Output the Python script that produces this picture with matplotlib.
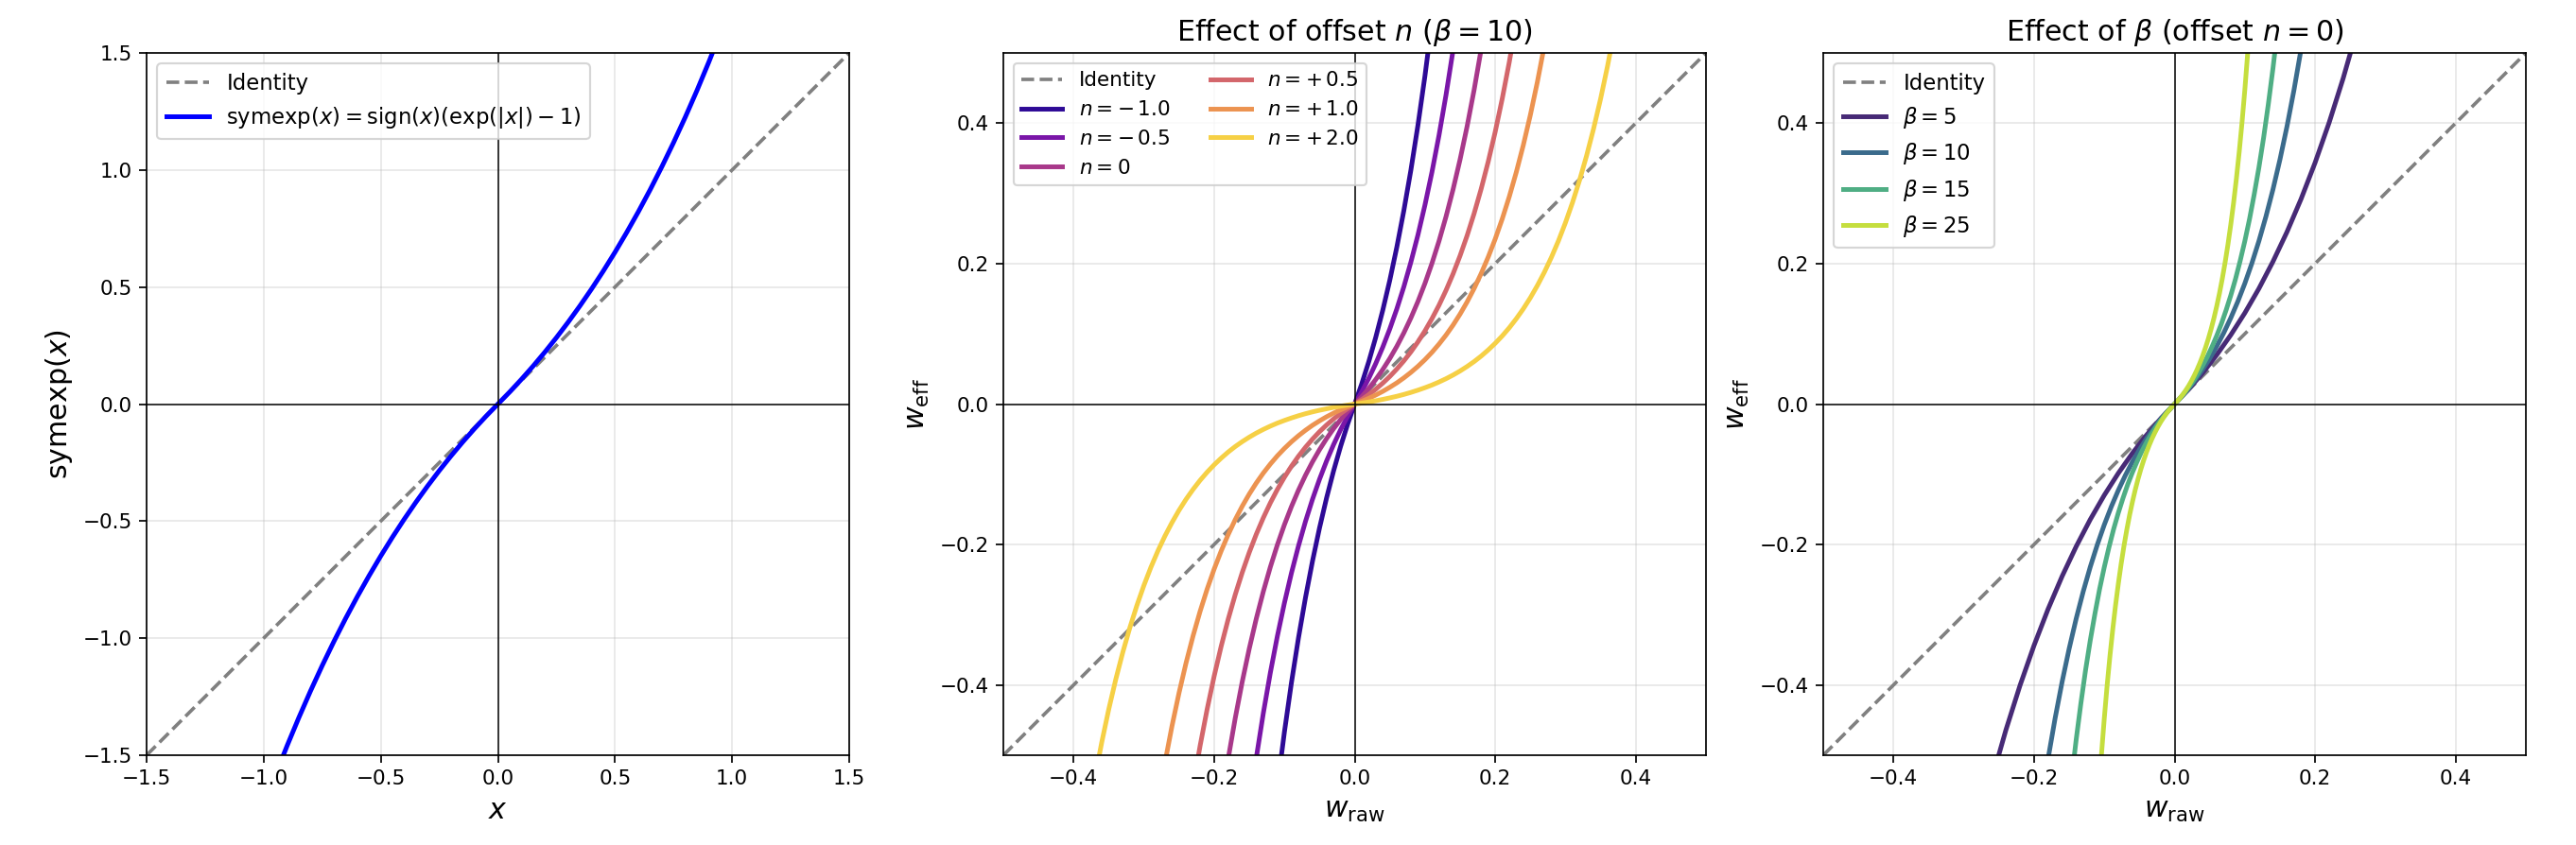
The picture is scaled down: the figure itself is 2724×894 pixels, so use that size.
import matplotlib
matplotlib.use("Agg")
import matplotlib.pyplot as plt

# --- panel 1: symexp(x) ---
X1 = [-0.95, -0.9, -0.85, -0.8, -0.75, -0.7, -0.65, -0.6, -0.55, -0.5,
      -0.45, -0.4, -0.35, -0.3, -0.25, -0.2, -0.15, -0.1, -0.05, 0.0,
      0.05, 0.1, 0.15, 0.2, 0.25, 0.3, 0.35, 0.4, 0.45, 0.5,
      0.55, 0.6, 0.65, 0.7, 0.75, 0.8, 0.85, 0.9, 0.95]
Y1 = [-1.5857, -1.4596, -1.3397, -1.2255, -1.1170, -1.0138, -0.9155, -0.8221, -0.7333, -0.6487,
      -0.5683, -0.4918, -0.4191, -0.3499, -0.2840, -0.2214, -0.1618, -0.1052, -0.0513, 0.0,
      0.0513, 0.1052, 0.1618, 0.2214, 0.2840, 0.3499, 0.4191, 0.4918, 0.5683, 0.6487,
      0.7333, 0.8221, 0.9155, 1.0138, 1.1170, 1.2255, 1.3397, 1.4596, 1.5857]
IDENT1 = [-1.5, 1.5]
TICKS1 = [-1.5, -1.0, -0.5, 0.0, 0.5, 1.0, 1.5]

# --- panel 2: offset n, beta = 10 ---
N_LABELS = [r"$n=-\,1.0$", r"$n=-\,0.5$", r"$n=0$", r"$n=+\,0.5$", r"$n=+\,1.0$", r"$n=+\,2.0$"]
N_COLORS = ["#2e0a96", "#7a16a8", "#a8388a", "#d3666b", "#ec9350", "#f6d045"]

W_NEG1 = [-0.11, -0.10, -0.09, -0.08, -0.07, -0.06, -0.05, -0.04, -0.03, -0.02, -0.01, 0.0,
          0.01, 0.02, 0.03, 0.04, 0.05, 0.06, 0.07, 0.08, 0.09, 0.10, 0.11]
Y_NEG1 = [-0.5448, -0.4671, -0.3968, -0.3331, -0.2756, -0.2235, -0.1763, -0.1337, -0.0951, -0.0602, -0.0286, 0.0,
          0.0286, 0.0602, 0.0951, 0.1337, 0.1763, 0.2235, 0.2756, 0.3331, 0.3968, 0.4671, 0.5448]

W_NEG05 = [-0.15, -0.14, -0.13, -0.12, -0.11, -0.10, -0.09, -0.08, -0.07, -0.06, -0.05, -0.04, -0.03, -0.02, -0.01, 0.0,
           0.01, 0.02, 0.03, 0.04, 0.05, 0.06, 0.07, 0.08, 0.09, 0.10, 0.11, 0.12, 0.13, 0.14, 0.15]
Y_NEG05 = [-0.5740, -0.5037, -0.4401, -0.3825, -0.3304, -0.2833, -0.2406, -0.2021, -0.1671, -0.1355, -0.1070, -0.0811,
           -0.0577, -0.0365, -0.0173, 0.0,
           0.0173, 0.0365, 0.0577, 0.0811, 0.1070, 0.1355, 0.1671, 0.2021, 0.2406, 0.2833, 0.3304, 0.3825,
           0.4401, 0.5037, 0.5740]

W_ZERO = [-0.19, -0.18, -0.17, -0.16, -0.15, -0.14, -0.13, -0.12, -0.11, -0.10, -0.09, -0.08, -0.07, -0.06, -0.05,
          -0.04, -0.03, -0.02, -0.01, 0.0,
          0.01, 0.02, 0.03, 0.04, 0.05, 0.06, 0.07, 0.08, 0.09, 0.10, 0.11, 0.12, 0.13, 0.14, 0.15,
          0.16, 0.17, 0.18, 0.19]
Y_ZERO = [-0.5686, -0.5050, -0.4474, -0.3953, -0.3482, -0.3055, -0.2669, -0.2320, -0.2004, -0.1718, -0.1460, -0.1226,
          -0.1014, -0.0822, -0.0649, -0.0492, -0.0350, -0.0221, -0.0105, 0.0,
          0.0105, 0.0221, 0.0350, 0.0492, 0.0649, 0.0822, 0.1014, 0.1226, 0.1460, 0.1718, 0.2004, 0.2320,
          0.2669, 0.3055, 0.3482, 0.3953, 0.4474, 0.5050, 0.5686]

W_POS05 = [-0.23, -0.22, -0.21, -0.20, -0.19, -0.18, -0.17, -0.16, -0.15, -0.14, -0.13, -0.12, -0.11, -0.10, -0.09,
           -0.08, -0.07, -0.06, -0.05, -0.04, -0.03, -0.02, -0.01, 0.0,
           0.01, 0.02, 0.03, 0.04, 0.05, 0.06, 0.07, 0.08, 0.09, 0.10, 0.11, 0.12, 0.13, 0.14, 0.15,
           0.16, 0.17, 0.18, 0.19, 0.20, 0.21, 0.22, 0.23]
Y_POS05 = [-0.5443, -0.4867, -0.4347, -0.3875, -0.3449, -0.3063, -0.2714, -0.2398, -0.2112, -0.1853, -0.1619, -0.1407,
           -0.1216, -0.1042, -0.0885, -0.0743, -0.0615, -0.0499, -0.0393, -0.0298, -0.0212, -0.0134, -0.0064, 0.0,
           0.0064, 0.0134, 0.0212, 0.0298, 0.0393, 0.0499, 0.0615, 0.0743, 0.0885, 0.1042, 0.1216, 0.1407,
           0.1619, 0.1853, 0.2112, 0.2398, 0.2714, 0.3063, 0.3449, 0.3875, 0.4347, 0.4867, 0.5443]

W_POS1 = [-0.28, -0.27, -0.26, -0.25, -0.24, -0.23, -0.22, -0.21, -0.20, -0.19, -0.18, -0.17, -0.16, -0.15, -0.14,
          -0.13, -0.12, -0.11, -0.10, -0.09, -0.08, -0.07, -0.06, -0.05, -0.04, -0.03, -0.02, -0.01, 0.0,
          0.01, 0.02, 0.03, 0.04, 0.05, 0.06, 0.07, 0.08, 0.09, 0.10, 0.11, 0.12, 0.13, 0.14,
          0.15, 0.16, 0.17, 0.18, 0.19, 0.20, 0.21, 0.22, 0.23, 0.24, 0.25, 0.26, 0.27, 0.28]
Y_POS1 = [-0.5682, -0.5106, -0.4585, -0.4114, -0.3687, -0.3301, -0.2952, -0.2636, -0.2350, -0.2092, -0.1858, -0.1646,
          -0.1454, -0.1281, -0.1124, -0.0982, -0.0854, -0.0737, -0.0632, -0.0537, -0.0451, -0.0373, -0.0302, -0.0239,
          -0.0181, -0.0129, -0.0081, -0.0039, 0.0,
          0.0039, 0.0081, 0.0129, 0.0181, 0.0239, 0.0302, 0.0373, 0.0451, 0.0537, 0.0632, 0.0737, 0.0854,
          0.0982, 0.1124, 0.1281, 0.1454, 0.1646, 0.1858, 0.2092, 0.2350, 0.2636, 0.2952, 0.3301, 0.3687,
          0.4114, 0.4585, 0.5106, 0.5682]

W_POS2 = [-0.37, -0.36, -0.35, -0.34, -0.33, -0.32, -0.31, -0.30, -0.29, -0.28, -0.27, -0.26, -0.25, -0.24, -0.23,
          -0.22, -0.21, -0.20, -0.19, -0.18, -0.17, -0.16, -0.15, -0.14, -0.13, -0.12, -0.11, -0.10, -0.09,
          -0.08, -0.07, -0.06, -0.05, -0.04, -0.03, -0.02, -0.01, 0.0,
          0.01, 0.02, 0.03, 0.04, 0.05, 0.06, 0.07, 0.08, 0.09, 0.10, 0.11, 0.12, 0.13, 0.14, 0.15,
          0.16, 0.17, 0.18, 0.19, 0.20, 0.21, 0.22, 0.23, 0.24, 0.25, 0.26, 0.27, 0.28, 0.29, 0.30,
          0.31, 0.32, 0.33, 0.34, 0.35, 0.36, 0.37]
Y_POS2 = [-0.5339, -0.4818, -0.4346, -0.3920, -0.3534, -0.3185, -0.2869, -0.2583, -0.2324, -0.2090, -0.1878, -0.1687,
          -0.1513, -0.1356, -0.1215, -0.1086, -0.0970, -0.0865, -0.0770, -0.0683, -0.0605, -0.0535, -0.0471, -0.0413,
          -0.0361, -0.0314, -0.0271, -0.0233, -0.0198, -0.0166, -0.0137, -0.0111, -0.0088, -0.0067, -0.0047,
          -0.0030, -0.0014, 0.0,
          0.0014, 0.0030, 0.0047, 0.0067, 0.0088, 0.0111, 0.0137, 0.0166, 0.0198, 0.0233, 0.0271, 0.0314,
          0.0361, 0.0413, 0.0471, 0.0535, 0.0605, 0.0683, 0.0770, 0.0865, 0.0970, 0.1086, 0.1215, 0.1356,
          0.1513, 0.1687, 0.1878, 0.2090, 0.2324, 0.2583, 0.2869, 0.3185, 0.3534, 0.3920, 0.4346, 0.4818, 0.5339]

# --- panel 3: beta, offset n = 0 ---
B_LABELS = [r"$\beta=5$", r"$\beta=10$", r"$\beta=15$", r"$\beta=25$"]
B_COLORS = ["#472a76", "#3b6b8c", "#4fae84", "#c5de3e"]

W_B5 = [-0.26, -0.24, -0.22, -0.20, -0.18, -0.16, -0.14, -0.12, -0.10, -0.08, -0.06, -0.04, -0.02, 0.0,
        0.02, 0.04, 0.06, 0.08, 0.10, 0.12, 0.14, 0.16, 0.18, 0.20, 0.22, 0.24, 0.26]
Y_B5 = [-0.5339, -0.4640, -0.4008, -0.3437, -0.2919, -0.2451, -0.2028, -0.1644, -0.1297, -0.0984, -0.0700,
        -0.0443, -0.0210, 0.0,
        0.0210, 0.0443, 0.0700, 0.0984, 0.1297, 0.1644, 0.2028, 0.2451, 0.2919, 0.3437, 0.4008, 0.4640, 0.5339]

W_B10 = W_ZERO
Y_B10 = Y_ZERO

W_B15 = [-0.1467, -0.1400, -0.1333, -0.1267, -0.1200, -0.1133, -0.1067, -0.1000, -0.0933, -0.0867, -0.0800,
         -0.0733, -0.0667, -0.0600, -0.0533, -0.0467, -0.0400, -0.0333, -0.0267, -0.0200, -0.0133, -0.0067, 0.0,
         0.0067, 0.0133, 0.0200, 0.0267, 0.0333, 0.0400, 0.0467, 0.0533, 0.0600, 0.0667, 0.0733, 0.0800,
         0.0867, 0.0933, 0.1000, 0.1067, 0.1133, 0.1200, 0.1267, 0.1333, 0.1400, 0.1467]
Y_B15 = [-0.5350, -0.4777, -0.4259, -0.3791, -0.3366, -0.2983, -0.2635, -0.2321, -0.2037, -0.1780, -0.1547,
         -0.1336, -0.1146, -0.0973, -0.0817, -0.0676, -0.0548, -0.0432, -0.0328, -0.0233, -0.0148, -0.0070, 0.0,
         0.0070, 0.0148, 0.0233, 0.0328, 0.0432, 0.0548, 0.0676, 0.0817, 0.0973, 0.1146, 0.1336, 0.1547,
         0.1780, 0.2037, 0.2321, 0.2635, 0.2983, 0.3366, 0.3791, 0.4259, 0.4777, 0.5350]

W_B25 = [-0.108, -0.104, -0.100, -0.096, -0.092, -0.088, -0.084, -0.080, -0.076, -0.072, -0.068, -0.064, -0.060,
         -0.056, -0.052, -0.048, -0.044, -0.040, -0.036, -0.032, -0.028, -0.024, -0.020, -0.016, -0.012, -0.008,
         -0.004, 0.0,
         0.004, 0.008, 0.012, 0.016, 0.020, 0.024, 0.028, 0.032, 0.036, 0.040, 0.044, 0.048, 0.052, 0.056,
         0.060, 0.064, 0.068, 0.072, 0.076, 0.080, 0.084, 0.088, 0.092, 0.096, 0.100, 0.104, 0.108]
Y_B25 = [-0.5552, -0.4986, -0.4473, -0.4009, -0.3590, -0.3210, -0.2866, -0.2556, -0.2274, -0.2020, -0.1790,
         -0.1581, -0.1393, -0.1222, -0.1068, -0.0928, -0.0802, -0.0687, -0.0584, -0.0490, -0.0406, -0.0329,
         -0.0259, -0.0197, -0.0140, -0.0089, -0.0042, 0.0,
         0.0042, 0.0089, 0.0140, 0.0197, 0.0259, 0.0329, 0.0406, 0.0490, 0.0584, 0.0687, 0.0802, 0.0928,
         0.1068, 0.1222, 0.1393, 0.1581, 0.1790, 0.2020, 0.2274, 0.2556, 0.2866, 0.3210, 0.3590, 0.4009,
         0.4473, 0.4986, 0.5552]

IDENT2 = [-0.5, 0.5]

W = 2724
H = 894
DPI = 155
fig = plt.figure(figsize=(W / DPI, H / DPI), dpi=DPI)


def setup(ax, lim):
    ax.axhline(0, color="k", lw=0.7)
    ax.axvline(0, color="k", lw=0.7)
    ax.grid(True, alpha=0.3)
    ax.set_xlim(-lim, lim)
    ax.set_ylim(-lim, lim)


# panel 1
ax1 = fig.add_axes([155 / W, 95 / H, 743 / W, 743 / H])
ax1.plot(IDENT1, IDENT1, "--", color="gray", lw=1.7, label="Identity")
ax1.plot(X1, Y1, color="blue", lw=2.3,
         label=r"$\mathrm{symexp}(x) = \mathrm{sign}(x)(\exp(|x|) - 1)$")
setup(ax1, 1.5)
ax1.set_xticks(TICKS1)
ax1.set_yticks(TICKS1)
ax1.set_xlabel("$x$", fontsize=14)
ax1.set_ylabel(r"$\mathrm{symexp}(x)$", fontsize=14)
ax1.legend(loc="upper left", fontsize=10.6)

# panel 2
ax2 = fig.add_axes([1061 / W, 95 / H, 743 / W, 743 / H])
ax2.plot(IDENT2, IDENT2, "--", color="gray", lw=1.7, label="Identity")
curves_n = [(W_NEG1, Y_NEG1), (W_NEG05, Y_NEG05), (W_ZERO, Y_ZERO),
            (W_POS05, Y_POS05), (W_POS1, Y_POS1), (W_POS2, Y_POS2)]
for (wx, wy), lab, col in zip(curves_n, N_LABELS, N_COLORS):
    ax2.plot(wx, wy, color=col, lw=2.3, label=lab)
setup(ax2, 0.5)
ax2.set_title(r"Effect of offset $n$ ($\beta=10$)", fontsize=14)
ax2.set_xlabel(r"$w_{\mathrm{raw}}$", fontsize=14)
ax2.set_ylabel(r"$w_{\mathrm{eff}}$", fontsize=14)
ax2.legend(loc="upper left", ncol=2, fontsize=10)

# panel 3
ax3 = fig.add_axes([1928 / W, 95 / H, 743 / W, 743 / H])
ax3.plot(IDENT2, IDENT2, "--", color="gray", lw=1.7, label="Identity")
curves_b = [(W_B5, Y_B5), (W_B10, Y_B10), (W_B15, Y_B15), (W_B25, Y_B25)]
for (wx, wy), lab, col in zip(curves_b, B_LABELS, B_COLORS):
    ax3.plot(wx, wy, color=col, lw=2.3, label=lab)
setup(ax3, 0.5)
ax3.set_title(r"Effect of $\beta$ (offset $n=0$)", fontsize=14)
ax3.set_xlabel(r"$w_{\mathrm{raw}}$", fontsize=14)
ax3.set_ylabel(r"$w_{\mathrm{eff}}$", fontsize=14)
ax3.legend(loc="upper left", fontsize=10.6)

fig.savefig("out.png", dpi=DPI)
